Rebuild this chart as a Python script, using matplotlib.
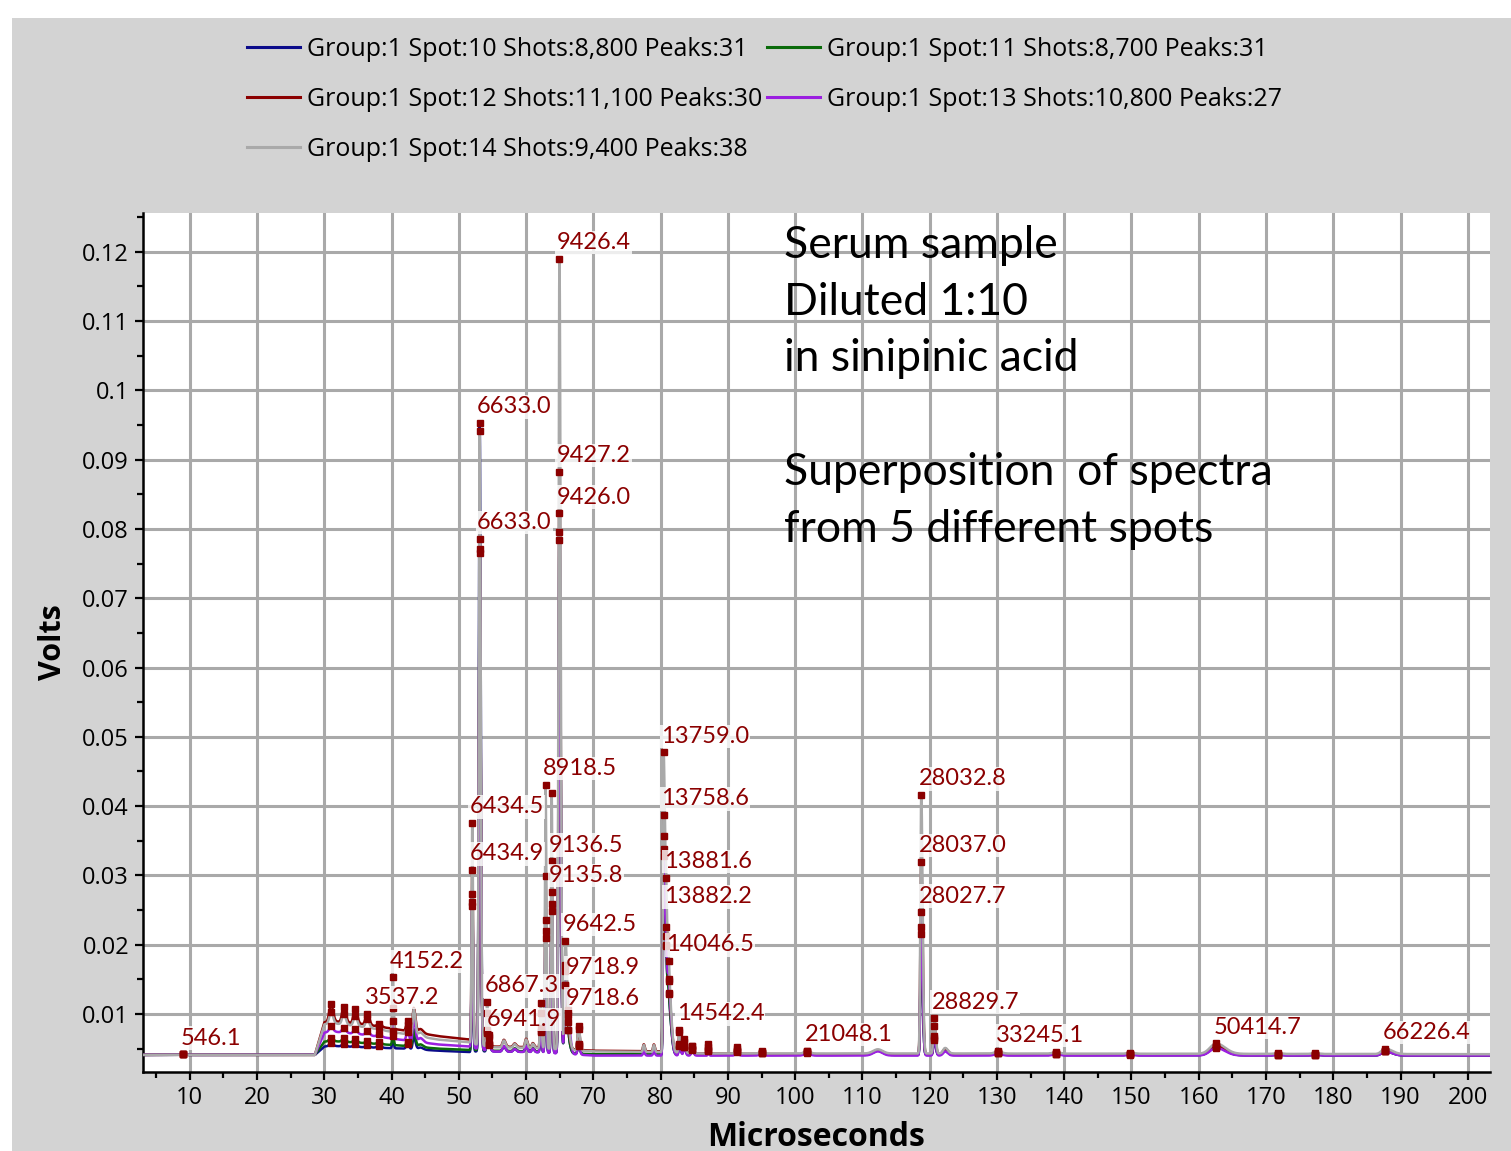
import numpy as np
import matplotlib
matplotlib.use("Agg")
import matplotlib.pyplot as plt
from matplotlib.lines import Line2D
from matplotlib.patches import Rectangle
from matplotlib.ticker import MultipleLocator, FormatStrFormatter

# Spots acquired on the same target plate
SPOT_LABELS = [
    "Group:1 Spot:10 Shots:8,800 Peaks:31",
    "Group:1 Spot:11 Shots:8,700 Peaks:31",
    "Group:1 Spot:12 Shots:11,100 Peaks:30",
    "Group:1 Spot:13 Shots:10,800 Peaks:27",
    "Group:1 Spot:14 Shots:9,400 Peaks:38",
]
SPOT_COLORS = ["#0b0b8a", "#0a6b0a", "#8b0000", "#9b1fe0", "#a9a9a9"]

# Baseline (volts) at flight-time knots (microseconds), one list per spot
BASE_T = [3.0, 28.6, 30.0, 31.0, 36.0, 42.0, 47.0, 51.6, 52.6, 55.0, 61.5,
          66.5, 70.0, 79.8, 86.0, 100.0, 118.0, 125.0, 203.5]
BASE_SPOT10 = [0.0041, 0.0041, 0.0053, 0.0054, 0.0052, 0.0050, 0.0047, 0.0045, 0.0046, 0.0046,
               0.0045, 0.0043, 0.0041, 0.0041, 0.0041, 0.0041, 0.0041, 0.0041, 0.0040]
BASE_SPOT11 = [0.0041, 0.0041, 0.0060, 0.0061, 0.0058, 0.0054, 0.0050, 0.0048, 0.0048, 0.0047,
               0.0046, 0.0043, 0.0042, 0.0042, 0.0041, 0.0041, 0.0041, 0.0041, 0.0040]
BASE_SPOT12 = [0.0041, 0.0041, 0.0088, 0.0090, 0.0085, 0.0076, 0.0068, 0.0063, 0.0058, 0.0053,
               0.0052, 0.0049, 0.0047, 0.0046, 0.0043, 0.0042, 0.0042, 0.0042, 0.0041]
BASE_SPOT13 = [0.0041, 0.0041, 0.0073, 0.0075, 0.0070, 0.0062, 0.0056, 0.0053, 0.0050, 0.0046,
               0.0045, 0.0042, 0.0040, 0.0040, 0.0040, 0.0040, 0.0040, 0.0040, 0.0040]
BASE_SPOT14 = [0.0041, 0.0041, 0.0085, 0.0087, 0.0081, 0.0071, 0.0063, 0.0059, 0.0056, 0.0052,
               0.0051, 0.0048, 0.0046, 0.0045, 0.0043, 0.0043, 0.0043, 0.0043, 0.0042]

# Peaks: flight time, rising / falling width, height above baseline per spot,
# and whether the peak picker flagged it
PEAK_T = [9.0, 31.0, 32.9, 34.6, 36.4, 38.2, 40.2, 42.4, 43.3, 44.3,
          52.0, 53.1, 54.2, 54.55, 56.7, 58.3, 60.0, 61.0, 62.2, 62.9,
          63.8, 64.96, 65.85, 66.3, 67.8, 77.5, 79.0, 80.45, 80.85, 81.25,
          82.8, 83.5, 84.7, 87.1, 91.3, 95.0, 101.8, 112.3, 118.75, 120.7,
          122.3, 130.2, 138.8, 149.8, 162.6, 171.8, 177.3, 187.7]
PEAK_RISE = [0.3, 0.25, 0.25, 0.25, 0.25, 0.3, 0.10, 0.2, 0.15, 0.3,
             0.10, 0.12, 0.10, 0.12, 0.2, 0.2, 0.15, 0.15, 0.12, 0.10,
             0.10, 0.13, 0.15, 0.2, 0.15, 0.12, 0.12, 0.10, 0.12, 0.15,
             0.12, 0.12, 0.15, 0.08, 0.2, 0.3, 0.4, 0.7, 0.13, 0.15,
             0.3, 0.5, 0.5, 0.5, 0.9, 0.5, 0.5, 0.5]
PEAK_FALL = [0.3, 0.3, 0.3, 0.3, 0.3, 0.3, 0.12, 0.2, 0.25, 0.4,
             0.12, 0.16, 0.15, 0.2, 0.25, 0.25, 0.2, 0.2, 0.12, 0.12,
             0.12, 0.18, 0.25, 0.3, 0.2, 0.15, 0.15, 0.22, 0.25, 0.35,
             0.2, 0.2, 0.2, 0.1, 0.25, 0.3, 0.4, 0.7, 0.2, 0.2,
             0.4, 0.5, 0.5, 0.5, 1.3, 0.5, 0.5, 1.0]
AMP_SPOT10 = [0.0001, 0.0004, 0.0004, 0.0004, 0.0003, 0.0003, 0.0018, 0.0007, 0.0018, 0.0003,
              0.0210, 0.0907, 0.0026, 0.0008, 0.0007, 0.0004, 0.0009, 0.0005, 0.0030, 0.0165,
              0.0205, 0.0740, 0.0097, 0.0015, 0.0012, 0.0007, 0.0007, 0.0286, 0.0100, 0.0060,
              0.0013, 0.0012, 0.0008, 0.0007, 0.0005, 0.0003, 0.0004, 0.0006, 0.0174, 0.0022,
              0.0006, 0.0003, 0.0002, 0.0001, 0.0012, 0.0001, 0.0001, 0.0006]
AMP_SPOT11 = [0.0001, 0.0005, 0.0005, 0.0005, 0.0004, 0.0003, 0.0020, 0.0006, 0.0025, 0.0004,
              0.0214, 0.0717, 0.0027, 0.0008, 0.0007, 0.0004, 0.0009, 0.0005, 0.0030, 0.0174,
              0.0214, 0.0751, 0.0097, 0.0015, 0.0012, 0.0007, 0.0007, 0.0296, 0.0100, 0.0060,
              0.0015, 0.0012, 0.0008, 0.0007, 0.0005, 0.0003, 0.0004, 0.0006, 0.0184, 0.0025,
              0.0006, 0.0003, 0.0002, 0.0001, 0.0012, 0.0001, 0.0001, 0.0006]
AMP_SPOT12 = [0.0001, 0.0024, 0.0022, 0.0021, 0.0016, 0.0004, 0.0030, 0.0015, 0.0035, 0.0006,
              0.0247, 0.0729, 0.0047, 0.0012, 0.0010, 0.0005, 0.0012, 0.0006, 0.0050, 0.0248,
              0.0270, 0.0833, 0.0120, 0.0015, 0.0030, 0.0010, 0.0010, 0.0341, 0.0113, 0.0070,
              0.0030, 0.0015, 0.0010, 0.0010, 0.0007, 0.0003, 0.0004, 0.0006, 0.0278, 0.0040,
              0.0008, 0.0003, 0.0002, 0.0001, 0.0013, 0.0001, 0.0001, 0.0006]
AMP_SPOT13 = [0.0001, 0.0007, 0.0007, 0.0007, 0.0006, 0.0004, 0.0025, 0.0013, 0.0033, 0.0006,
              0.0222, 0.0722, 0.0030, 0.0008, 0.0008, 0.0004, 0.0009, 0.0005, 0.0035, 0.0192,
              0.0233, 0.0780, 0.0117, 0.0040, 0.0015, 0.0007, 0.0007, 0.0316, 0.0110, 0.0080,
              0.0015, 0.0012, 0.0008, 0.0007, 0.0005, 0.0003, 0.0004, 0.0006, 0.0207, 0.0028,
              0.0006, 0.0003, 0.0002, 0.0001, 0.0011, 0.0001, 0.0001, 0.0006]
AMP_SPOT14 = [0.0001, 0.0016, 0.0015, 0.0014, 0.0012, 0.0004, 0.0079, 0.0014, 0.0038, 0.0006,
              0.0318, 0.0886, 0.0064, 0.0010, 0.0010, 0.0005, 0.0012, 0.0006, 0.0066, 0.0381,
              0.0370, 0.1141, 0.0156, 0.0020, 0.0035, 0.0010, 0.0010, 0.0432, 0.0167, 0.0085,
              0.0033, 0.0020, 0.0010, 0.0014, 0.0009, 0.0003, 0.0004, 0.0006, 0.0373, 0.0051,
              0.0008, 0.0003, 0.0002, 0.0001, 0.0015, 0.0001, 0.0001, 0.0008]
PEAK_FLAGGED = [1, 1, 1, 1, 1, 1, 1, 1, 0, 0,
                1, 1, 1, 1, 0, 0, 0, 0, 1, 1,
                1, 1, 1, 1, 1, 0, 0, 1, 1, 1,
                1, 1, 1, 1, 1, 1, 1, 0, 1, 1,
                0, 1, 1, 1, 1, 1, 1, 1]

# m/z annotations: text, peak flight time, spot index (0 = Spot:10 ... 4 = Spot:14)
LABEL_TEXT = ["546.1", "3537.2", "4152.2", "6434.5", "6434.9", "6633.0", "6633.0", "6867.3",
              "6941.9", "8918.5", "9136.5", "9135.8", "9426.4", "9427.2", "9426.0", "9642.5",
              "9718.9", "9718.6", "13759.0", "13758.6", "13881.6", "13882.2", "14046.5",
              "14542.4", "21048.1", "28032.8", "28037.0", "28027.7", "28829.7", "33245.1",
              "50414.7", "66226.4"]
LABEL_PEAK_T = [9.0, 36.4, 40.2, 52.0, 52.0, 53.1, 53.1, 54.2,
                54.55, 62.9, 63.8, 63.8, 64.96, 64.96, 64.96, 65.85,
                66.3, 66.3, 80.45, 80.45, 80.85, 80.85, 81.25,
                82.8, 101.8, 118.75, 118.75, 118.75, 120.7, 130.2,
                162.6, 187.7]
LABEL_SPOT = [4, 2, 4, 4, 2, 0, 2, 4,
              2, 4, 2, 3, 4, 2, 3, 4,
              3, 4, 4, 2, 4, 2, 4,
              4, 4, 4, 2, 3, 4, 4,
              4, 4]

BASELINES = [BASE_SPOT10, BASE_SPOT11, BASE_SPOT12, BASE_SPOT13, BASE_SPOT14]
AMPLITUDES = [AMP_SPOT10, AMP_SPOT11, AMP_SPOT12, AMP_SPOT13, AMP_SPOT14]

DARK_RED = "#8b0000"
GRID_GRAY = "#a9a9a9"
PANEL_GRAY = "#d3d3d3"


def spectrum(t, spot):
    """Baseline plus asymmetric gaussian peaks for one spot."""
    t = np.asarray(t, dtype=float)
    y = np.interp(t, BASE_T, BASELINES[spot])
    for c, rise, fall, amp in zip(PEAK_T, PEAK_RISE, PEAK_FALL, AMPLITUDES[spot]):
        width = np.where(t < c, rise, fall)
        y = y + amp * np.exp(-0.5 * ((t - c) / width) ** 2)
    return y


fig = plt.figure(figsize=(15.11, 11.51), dpi=100, facecolor="white")
fig.patches.append(Rectangle((12 / 1511, 0), 1, 1 - 18 / 1151, transform=fig.transFigure,
                             facecolor=PANEL_GRAY, edgecolor="none", zorder=-10))

ax = fig.add_axes([143 / 1511, 1 - 1072 / 1151, (1490 - 143) / 1511, (1072 - 213) / 1151])
ax.set_facecolor("white")

t = np.linspace(3.0, 203.5, 24000)
for spot in range(5):
    ax.plot(t, spectrum(t, spot), color=SPOT_COLORS[spot], lw=1.8, zorder=3)

# peak markers on the flagged peaks
flagged = np.array(PEAK_FLAGGED, dtype=bool)
marked_t = np.array(PEAK_T)[flagged]
for spot in range(5):
    ax.plot(marked_t, spectrum(marked_t, spot), ls="none", marker="s", ms=5,
            color=DARK_RED, zorder=4)

# m/z labels sitting just above their peak marker
label_lift = {"9718.9": 19, "13882.2": 10}
for text, pt, spot in zip(LABEL_TEXT, LABEL_PEAK_T, LABEL_SPOT):
    y = float(spectrum([pt], spot)[0])
    ax.annotate(text, (pt, y), xytext=(-2, 4 + label_lift.get(text, 0)),
                textcoords="offset points", ha="left", va="bottom",
                fontsize=17, family="Lato", color=DARK_RED, zorder=5,
                bbox=dict(boxstyle="square,pad=0.05", fc="white", ec="none", alpha=0.8))

ax.text(98.4, 0.1239,
        "Serum sample\nDiluted 1:10\nin sinipinic acid\n\nSuperposition  of spectra\nfrom 5 different spots",
        ha="left", va="top", fontsize=32, family="Lato", color="black", linespacing=1.48, zorder=6)

ax.set_xlim(3.05, 203.3)
ax.set_ylim(0.00163, 0.1256)
ax.xaxis.set_major_locator(MultipleLocator(10))
ax.xaxis.set_minor_locator(MultipleLocator(5))
ax.yaxis.set_major_locator(MultipleLocator(0.01))
ax.yaxis.set_minor_locator(MultipleLocator(0.005))
ax.yaxis.set_major_formatter(FormatStrFormatter("%g"))
ax.set_xticks([v for v in range(10, 201, 10)])

ax.grid(True, which="major", color=GRID_GRAY, lw=2.2, zorder=0)
ax.set_axisbelow(True)
for side in ("top", "right"):
    ax.spines[side].set_visible(False)
for side in ("left", "bottom"):
    ax.spines[side].set_linewidth(1.8)
    ax.spines[side].set_color("black")

ax.tick_params(which="major", direction="out", length=6, width=1.6, labelsize=17, pad=4)
ax.tick_params(which="minor", direction="out", length=4, width=1.6)
for lbl in ax.get_xticklabels() + ax.get_yticklabels():
    lbl.set_family("Open Sans")

ax.set_xlabel("Microseconds", fontsize=23, fontweight="bold", family="Open Sans", labelpad=8)
ax.set_ylabel("Volts", fontsize=22, fontweight="bold", family="Open Sans", labelpad=10)

# legend laid out row by row: spots 10/11, 12/13, 14
order = [0, 2, 4, 1, 3]
handles = [Line2D([0], [0], color=SPOT_COLORS[i], lw=2.2) for i in order]
fig.legend(handles, [SPOT_LABELS[i] for i in order], ncol=2, loc="upper left",
           bbox_to_anchor=(247 / 1511, 1 - 37 / 1151), frameon=False,
           prop={"family": "Open Sans", "size": 18}, handlelength=2.1, handletextpad=0.3,
           columnspacing=0.2, labelspacing=1.0, borderpad=0, borderaxespad=0)

fig.savefig("out.png", dpi=100, facecolor=fig.get_facecolor())
